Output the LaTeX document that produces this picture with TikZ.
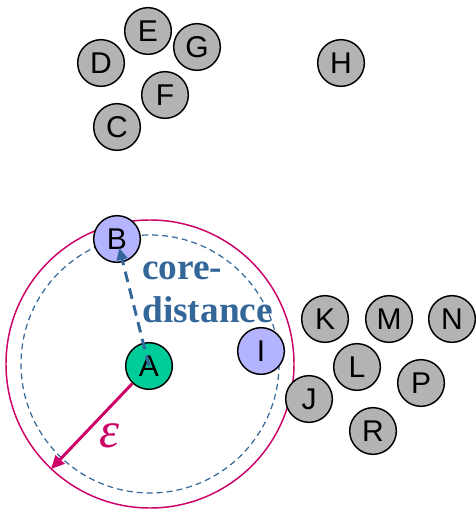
\documentclass[tikz,border=0pt]{standalone}
\usepackage{fontspec}
\setmainfont{Liberation Sans}
\newfontfamily\serifbold{Liberation Serif}
\usetikzlibrary{arrows.meta,calc}
\definecolor{nodegray}{RGB}{179,179,179}
\definecolor{nodeblue}{RGB}{179,179,255}
\definecolor{nodegreen}{RGB}{0,204,153}
\definecolor{epsred}{RGB}{204,0,102}
\definecolor{coreblue}{RGB}{51,102,153}
\begin{document}
\begin{tikzpicture}[x=0.75pt,y=-0.75pt,
  pt/.style={circle,draw=black,line width=1.1pt,minimum size=35pt,inner sep=0pt,
    font=\fontsize{22.5}{22.5}\selectfont,fill=nodegray},
  bluept/.style={pt,fill=nodeblue},
  greenpt/.style={pt,fill=nodegreen},
  epscircle/.style={draw=epsred,line width=1.1pt},
  corecircle/.style={draw=coreblue,line width=0.9pt,dash pattern=on 4.5pt off 3pt},
  corearrow/.style={draw=coreblue,line width=2.2pt,dash pattern=on 8pt off 5pt,
    -{Triangle[length=9pt,width=8pt]}},
  epsarrow/.style={draw=epsred,line width=2.2pt,-{Triangle[length=10pt,width=9pt]}},
  corelabel/.style={text=coreblue,font=\serifbold\bfseries\fontsize{28}{32}\selectfont,
    align=left,anchor=north west,inner sep=0pt},
  epslabel/.style={text=epsred,font=\serifbold\itshape\fontsize{38}{38}\selectfont,inner sep=0pt}]
\useasboundingbox (0,0) rectangle (475,509);
% neighbourhood circles
\coordinate (ctr) at (150,364);
\path[epscircle] (ctr) circle[radius=144];
\path[corecircle] (ctr) circle[radius=129];
% points
\node[pt] (D) at (101,63) {D};
\node[pt] (E) at (148,31) {E};
\node[pt] (G) at (197,47) {G};
\node[pt] (F) at (165,95) {F};
\node[pt] (C) at (117,127) {C};
\node[pt] (H) at (341,63) {H};
\node[bluept] (B) at (117,239) {B};
\node[greenpt] (A) at (149,366) {A};
\node[bluept] (I) at (261,351) {I};
\node[pt] (K) at (325,319) {K};
\node[pt] (M) at (389,319) {M};
\node[pt] (N) at (452,319) {N};
\node[pt] (L) at (357,367) {L};
\node[pt] (P) at (421,383) {P};
\node[pt] (J) at (309,399) {J};
\node[pt] (R) at (373,431) {R};
% arrows
\coordinate (epsend) at (51,469);
\path[epsarrow] (A) -- (epsend);
\path[corearrow] (A.center) -- ($(A.center)!0.93!(B.center)$);
% labels
\node[corelabel] (core) at (142,262) {core-\\distance};
\node[epslabel] (eps) at (109,436) {ε};
\end{tikzpicture}
\end{document}
